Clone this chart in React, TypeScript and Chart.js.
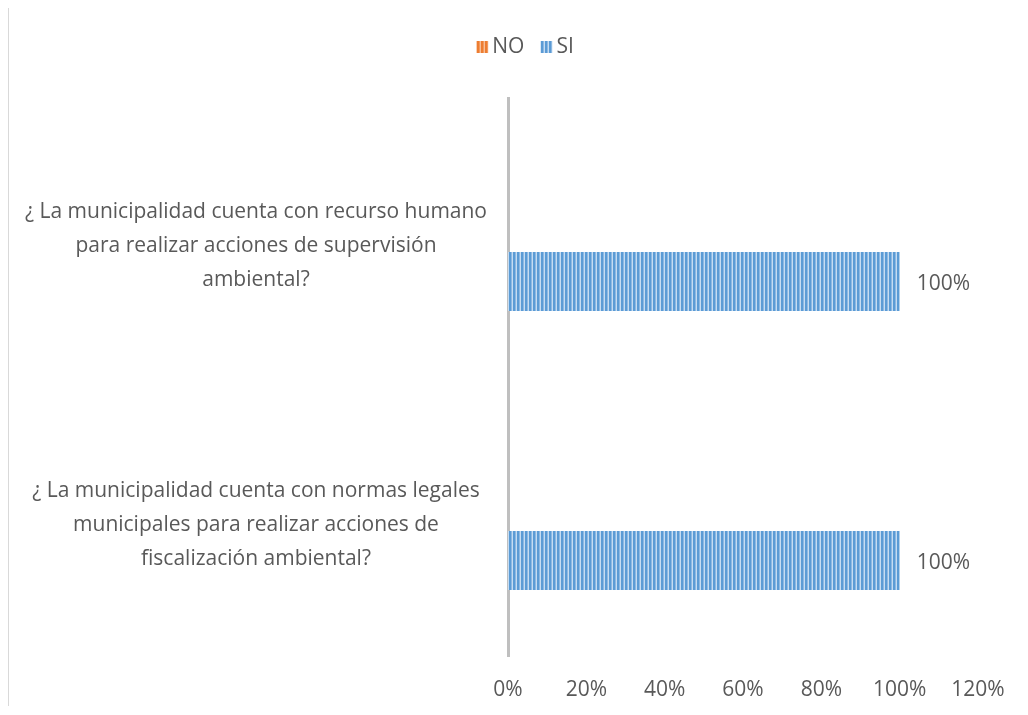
import React, { useEffect, useRef } from 'react';
import { Chart, registerables } from 'chart.js';

Chart.register(...registerables);

const categories: string[][] = [
  ['¿ La municipalidad cuenta con recurso humano', 'para realizar acciones de supervisión', 'ambiental?'],
  ['¿ La municipalidad cuenta con normas legales', 'municipales para realizar acciones de', 'fiscalización ambiental?'],
];
const seriesNames = ['NO', 'SI'];
const noValues = [0, 0];
const siValues = [100, 100];
const axisMin = 0;
const axisMax = 120;
const axisStep = 20;

const FONT = '"Open Sans", sans-serif';
const FONT_SIZE = 21;
const TEXT = '#595959';

function makePattern(base: string, mid: string, light: string) {
  const c = document.createElement('canvas');
  c.width = 4;
  c.height = 1;
  const g = c.getContext('2d')!;
  g.fillStyle = base;
  g.fillRect(0, 0, 4, 1);
  g.fillStyle = mid;
  g.fillRect(2, 0, 1, 1);
  g.fillStyle = light;
  g.fillRect(3, 0, 1, 1);
  return g.createPattern(c, 'repeat')!;
}

const valueLabels = {
  id: 'valueLabels',
  afterDatasetsDraw(chart: any) {
    const ctx = chart.ctx;
    chart.data.datasets.forEach((ds: any, i: number) => {
      const meta = chart.getDatasetMeta(i);
      meta.data.forEach((bar: any, j: number) => {
        const v = ds.data[j];
        if (!v) return;
        ctx.save();
        ctx.font = `${FONT_SIZE}px ${FONT}`;
        ctx.fillStyle = TEXT;
        ctx.textAlign = 'left';
        ctx.textBaseline = 'middle';
        ctx.fillText(`${v}%`, bar.x + 17, bar.y + 3);
        ctx.restore();
      });
    });
  },
};

// Legend drawn on the canvas (box, small gap, text) centred at the top.
const topLegend = {
  id: 'topLegend',
  afterDraw(chart: any) {
    const ctx = chart.ctx;
    const box = 12;
    const boxGap = 4;
    const itemGap = 16;
    const centerX = 516;
    const centerY = 39;
    ctx.save();
    ctx.font = `${FONT_SIZE}px ${FONT}`;
    const items = chart.data.datasets.map((ds: any) => ({
      text: ds.label,
      fill: ds.backgroundColor,
      w: ctx.measureText(ds.label).width,
    }));
    const total =
      items.reduce((s: number, it: any) => s + box + boxGap + it.w, 0) + itemGap * (items.length - 1);
    let x = centerX - total / 2;
    items.forEach((it: any) => {
      ctx.fillStyle = it.fill;
      ctx.fillRect(x, centerY - box / 2, box, box);
      ctx.fillStyle = TEXT;
      ctx.textAlign = 'left';
      ctx.textBaseline = 'middle';
      ctx.fillText(it.text, x + box + boxGap, centerY);
      x += box + boxGap + it.w + itemGap;
    });
    ctx.restore();
  },
};

export default function App() {
  const ref = useRef<HTMLCanvasElement>(null);
  useEffect(() => {
    const blue = makePattern('#5b9bd5', '#8db9e3', '#c5dcf2');
    const orange = makePattern('#ed7d31', '#f29a5e', '#f7c09a');
    const chart = new Chart(ref.current!, {
      type: 'bar',
      data: {
        labels: categories,
        datasets: [
          {
            label: seriesNames[0],
            data: noValues,
            backgroundColor: orange,
            borderWidth: 0,
            categoryPercentage: 0.631,
            barPercentage: 0.67,
          },
          {
            label: seriesNames[1],
            data: siValues,
            backgroundColor: blue,
            borderWidth: 0,
            categoryPercentage: 0.631,
            barPercentage: 0.67,
          },
        ],
      },
      options: {
        indexAxis: 'y',
        responsive: false,
        animation: false,
        layout: { padding: { left: 0, right: 42, top: 90, bottom: 0 } },
        plugins: {
          legend: { display: false },
          tooltip: { enabled: false },
        },
        scales: {
          x: {
            min: axisMin,
            max: axisMax,
            grid: { display: false, drawTicks: false },
            border: { display: false },
            ticks: {
              stepSize: axisStep,
              padding: 21,
              color: TEXT,
              font: { family: FONT, size: FONT_SIZE },
              callback: (v: any) => `${v}%`,
            },
            afterFit: (s: any) => {
              s.height = 50;
              s.paddingLeft = 0;
              s.paddingRight = 0;
            },
          },
          y: {
            grid: { display: false, drawTicks: false },
            border: { display: true, color: '#bfbfbf', width: 3 },
            ticks: {
              crossAlign: 'center',
              padding: 21,
              labelOffset: 8.5,
              color: TEXT,
              font: { family: FONT, size: FONT_SIZE, lineHeight: 1.62 },
            },
            afterFit: (s: any) => {
              s.width = 499;
              s.paddingTop = 0;
              s.paddingBottom = 0;
            },
          },
        },
      },
      plugins: [valueLabels, topLegend],
    });
    return () => chart.destroy();
  }, []);

  return (
    <div
      style={{
        width: 1012,
        height: 699,
        marginTop: -1,
        borderLeft: '1px solid #d9d9d9',
        borderTop: '1px solid #d9d9d9',
        boxSizing: 'border-box',
      }}
    >
      <canvas ref={ref} width={1011} height={698} style={{ display: 'block' }} />
    </div>
  );
}
